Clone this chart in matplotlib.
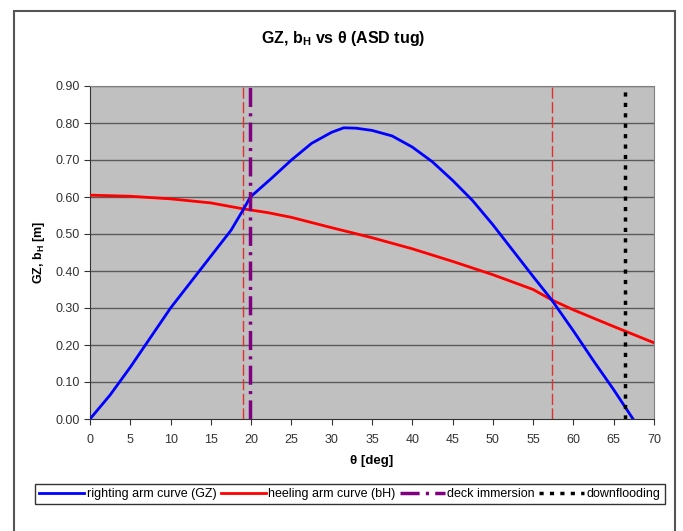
import matplotlib
matplotlib.use("Agg")
import matplotlib.pyplot as plt
from matplotlib.patches import Rectangle
from matplotlib.lines import Line2D

plt.rcParams['font.family'] = ['Liberation Sans', 'DejaVu Sans']

# righting arm curve GZ
gz_deg = [0, 2.5, 5, 7.5, 10, 12.5, 15, 17.5, 19, 19.9, 22.5, 25, 27.5, 30, 31.5,
          33, 35, 37.5, 40, 42.5, 45, 47.5, 50, 52.5, 55, 57.3, 60, 62.5, 65, 67.4]
gz_val = [0.0, 0.065, 0.14, 0.22, 0.30, 0.37, 0.44, 0.51, 0.565, 0.60, 0.65, 0.70, 0.745, 0.775, 0.787,
          0.786, 0.78, 0.765, 0.735, 0.695, 0.645, 0.59, 0.525, 0.455, 0.385, 0.322, 0.238, 0.157, 0.079, 0.0]

# heeling arm curve bH
bh_deg = [0, 5, 10, 15, 19, 22, 25, 30, 35, 40, 45, 50, 55, 57.3, 60, 65, 70]
bh_val = [0.605, 0.602, 0.595, 0.584, 0.568, 0.558, 0.545, 0.517, 0.49, 0.46, 0.426, 0.39, 0.35,
          0.322, 0.295, 0.25, 0.206]

deck_immersion = 19.9
downflooding = 66.4
crossings = [19.0, 57.3]

fig = plt.figure(figsize=(6.83, 5.31), dpi=100)
ax = fig.add_axes([90/683, 1-419/531, (654-90)/683, (419-86)/531])
ax.set_facecolor('#c0c0c0')

for y in [0.1 * i for i in range(1, 10)]:
    ax.axhline(y, color='#5a5a5a', lw=1, zorder=1)

for c in crossings:
    ax.axvline(c, color='#e03030', lw=1, dashes=(8, 2.5), zorder=2)

ax.plot(gz_deg, gz_val, color='#0000ff', lw=2, zorder=4)
ax.plot(bh_deg, bh_val, color='#ff0000', lw=2, zorder=3)
ax.axvline(deck_immersion, color='#800080', lw=2.5, dashes=(5.5, 1.8, 0.9, 1.8), zorder=5)
ax.axvline(downflooding, color='black', lw=2.5, dashes=(1.2, 1.8), zorder=5)

ax.set_xlim(0, 70)
ax.set_ylim(0, 0.9)
ax.set_xticks(range(0, 71, 5))
ax.set_yticks([0.1 * i for i in range(10)])
ax.set_yticklabels(['%.2f' % (0.1 * i) for i in range(10)])
ax.tick_params(direction='out', length=4, labelsize=9, colors='#333333')
ax.tick_params(axis='x', pad=7)
for s in ['top', 'right']:
    ax.spines[s].set_color('#808080')
for s in ['left', 'bottom']:
    ax.spines[s].set_color('#333333')

fig.text(343/683, 1-38/531, r'GZ, b$_\mathregular{H}$ vs θ (ASD tug)', fontsize=11.5,
         fontweight='bold', ha='center', va='center')
ax.set_xlabel('θ [deg]', fontsize=9.5, fontweight='bold', labelpad=6)
ax.set_ylabel(r'GZ, b$_\mathregular{H}$ [m]', fontsize=9, fontweight='bold', labelpad=6)

handles = [Line2D([], [], color='#0000ff', lw=2),
           Line2D([], [], color='#ff0000', lw=2),
           Line2D([], [], color='#800080', lw=2.5, dashes=(5.5, 1.8, 0.9, 1.8)),
           Line2D([], [], color='black', lw=2.5, dashes=(1.2, 1.8))]
labels = ['righting arm curve (GZ)', 'heeling arm curve (bH)', 'deck immersion', 'downflooding']
leg = fig.legend(handles, labels, loc='center', bbox_to_anchor=(350/683, 1-494/531), ncol=4,
                 fontsize=9, frameon=True, fancybox=False, handlelength=3.6, handletextpad=0.2,
                 columnspacing=0.35, borderpad=0.35, borderaxespad=0)
leg.get_frame().set_edgecolor('black')
leg.get_frame().set_linewidth(1)

fig.patches.append(Rectangle((14/683, -0.1), (675-14)/683, 1.1 - 11/531, transform=fig.transFigure,
                             fill=False, edgecolor='#555555', lw=1.5))

fig.savefig('out.png', dpi=100)
